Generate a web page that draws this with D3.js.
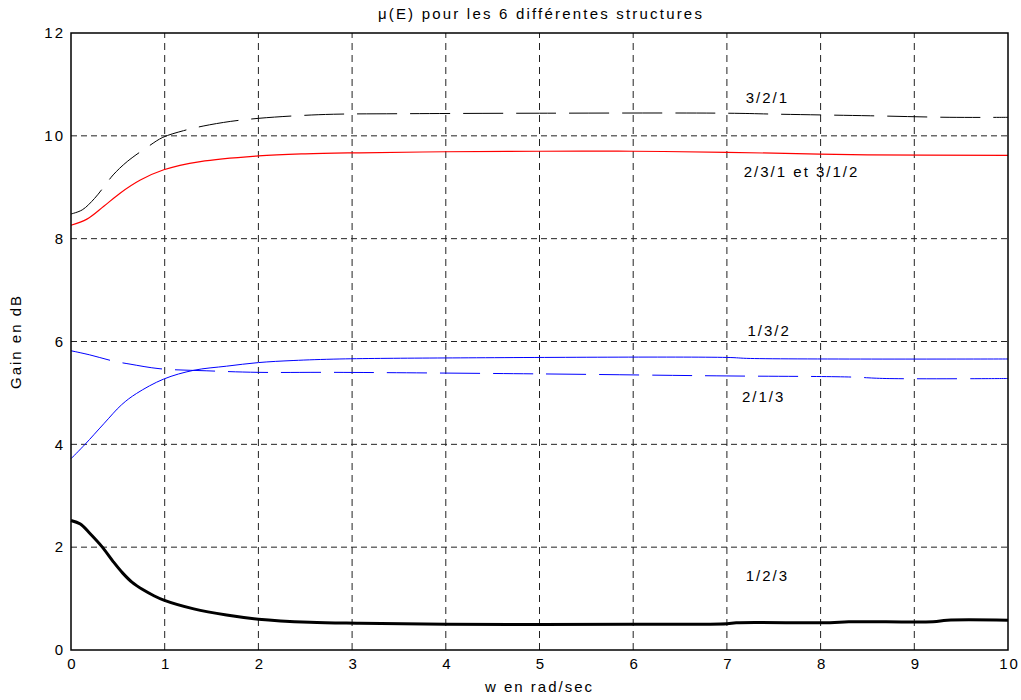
<!DOCTYPE html>
<html><head><meta charset="utf-8">
<script src="https://cdn.jsdelivr.net/npm/d3@7"></script>
<style>body{margin:0;background:#fff}svg{display:block}text{font-family:"Liberation Sans",Arial,sans-serif;letter-spacing:2px}</style>
</head><body><div id="chart"></div>
<script>
const xTicks = [0,1,2,3,4,5,6,7,8,9,10];
const yTicks = [0,2,4,6,8,10,12];
const title = "μ(E) pour les 6 différentes structures";
const xLabel = "w en rad/sec";
const yLabel = "Gain en dB";

const s321 = [[0,8.48],[0.12,8.56],[0.25,8.78],[0.36,9.03],[0.45,9.24],[0.6,9.5],[0.83,9.8],[0.98,9.97],[1.2,10.1],[1.41,10.19],[1.7,10.28],[2.0,10.34],[2.4,10.39],[2.8,10.42],[3.5,10.43],[5,10.44],[7,10.44],[7.57,10.42],[8.53,10.39],[9.38,10.36],[10,10.36]];
const s231 = [[0,8.26],[0.17,8.38],[0.35,8.63],[0.52,8.88],[0.74,9.14],[0.99,9.34],[1.38,9.50],[2.0,9.61],[2.5,9.65],[3.08,9.67],[4,9.69],[5,9.70],[6,9.70],[7,9.68],[8.5,9.63],[10,9.62]];
const s132 = [[0,3.72],[0.15,4.0],[0.35,4.4],[0.54,4.77],[0.70,4.99],[0.99,5.27],[1.31,5.44],[1.66,5.52],[2.0,5.59],[2.37,5.63],[2.87,5.66],[4,5.68],[7,5.69],[7.25,5.67],[10,5.66]];
const s213 = [[0,5.82],[0.2,5.74],[0.45,5.62],[0.63,5.56],[0.95,5.47],[1.45,5.43],[2.0,5.40],[2.8,5.40],[5,5.37],[7,5.33],[8.3,5.31],[8.7,5.28],[10,5.28]];
const s123 = [[0,2.52],[0.1,2.45],[0.2,2.27],[0.33,2.01],[0.45,1.72],[0.55,1.50],[0.65,1.32],[0.77,1.17],[0.88,1.06],[0.99,0.97],[1.31,0.80],[1.66,0.68],[2.0,0.60],[2.55,0.54],[3.08,0.52],[4,0.50],[6,0.50],[7,0.51],[7.1,0.53],[8.1,0.53],[8.3,0.55],[9.2,0.55],[9.35,0.58],[10,0.58]];

const labels = [
  {t:"3/2/1", x:7.2, y:10.75},
  {t:"2/3/1 et 3/1/2", x:7.18, y:9.3},
  {t:"1/3/2", x:7.22, y:6.2},
  {t:"2/1/3", x:7.16, y:4.93},
  {t:"1/2/3", x:7.2, y:1.45}
];

const W=1021,H=700, m={l:71,r:13,t:33,b:50};
const svg=d3.select("#chart").append("svg").attr("width",W).attr("height",H);
const x=d3.scaleLinear().domain([0,10]).range([m.l,W-m.r]);
const y=d3.scaleLinear().domain([0,12]).range([H-m.b,m.t]);

// grid
svg.append("g").selectAll("line").data(xTicks.slice(1,-1)).join("line")
  .attr("x1",d=>x(d)).attr("x2",d=>x(d)).attr("y1",y(0)).attr("y2",y(12))
  .attr("stroke","#222").attr("stroke-width",1).attr("stroke-dasharray","7,5");
svg.append("g").selectAll("line").data(yTicks.slice(1,-1)).join("line")
  .attr("x1",x(0)).attr("x2",x(10)).attr("y1",d=>y(d)).attr("y2",d=>y(d))
  .attr("stroke","#222").attr("stroke-width",1).attr("stroke-dasharray","6,4");

const line=d3.line().x(d=>x(d[0])).y(d=>y(d[1])).curve(d3.curveCatmullRom.alpha(0.5));
const series=[
  {d:s321,c:"#000",w:1,da:"40,13"},
  {d:s231,c:"#ff0000",w:1.2,da:null},
  {d:s132,c:"#0000ff",w:1,da:null},
  {d:s213,c:"#0000ff",w:1,da:"40,13"},
  {d:s123,c:"#000",w:3,da:null}
];
svg.append("g").selectAll("path").data(series).join("path")
  .attr("d",d=>line(d.d)).attr("fill","none").attr("stroke",d=>d.c)
  .attr("stroke-width",d=>d.w).attr("stroke-dasharray",d=>d.da);

// frame
svg.append("rect").attr("x",x(0)).attr("y",y(12)).attr("width",x(10)-x(0)).attr("height",y(0)-y(12))
  .attr("fill","none").attr("stroke","#000").attr("stroke-width",1.5);

// axes
const xa=svg.append("g").attr("transform",`translate(1,${y(0)})`)
  .call(d3.axisBottom(x).tickValues(xTicks).tickSize(0).tickPadding(8).tickFormat(d3.format("d")));
const ya=svg.append("g").attr("transform",`translate(${x(0)},0)`)
  .call(d3.axisLeft(y).tickValues(yTicks).tickSize(0).tickPadding(6).tickFormat(d3.format("d")));
[xa,ya].forEach(a=>{a.select(".domain").remove();a.selectAll("text").attr("font-size",15).attr("font-family","Liberation Sans, Arial, sans-serif").attr("fill","#000");});

svg.append("text").attr("x",541).attr("y",19).attr("text-anchor","middle").attr("font-size",15).style("letter-spacing","2.2px").text(title);
svg.append("text").attr("x",(x(0)+x(10))/2).attr("y",692).attr("text-anchor","middle").attr("font-size",15).text(xLabel);
svg.append("text").attr("transform",`translate(21,${(y(0)+y(12))/2}) rotate(-90)`).attr("text-anchor","middle").attr("font-size",15).text(yLabel);

svg.append("g").selectAll("text").data(labels).join("text")
  .attr("x",d=>x(d.x)).attr("y",d=>y(d.y)).attr("font-size",15).attr("dy","0.35em").text(d=>d.t);
</script></body></html>
